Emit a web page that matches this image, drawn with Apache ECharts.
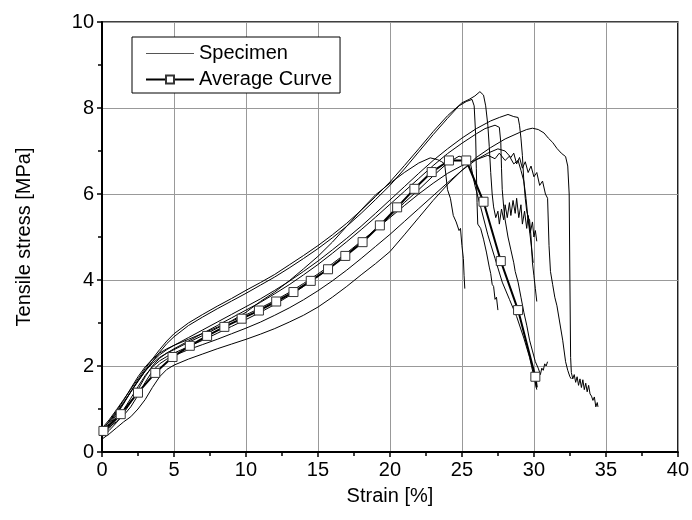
<!DOCTYPE html>
<html><head><meta charset="utf-8">
<script src="https://cdn.jsdelivr.net/npm/echarts@6/dist/echarts.min.js"></script>
<style>html,body{margin:0;padding:0;background:#fff}#c{width:692px;height:520px}</style>
</head><body><div id="c"></div>
<script>
// x ticks / y ticks
const xTicks = [0, 5, 10, 15, 20, 25, 30, 35, 40];
const yTicks = [0, 2, 4, 6, 8, 10];

// Average curve (markers)
const averageStrain = [0.1,1.3,2.5,3.7,4.9,6.1,7.3,8.5,9.7,10.9,12.1,13.3,14.5,15.7,16.9,18.1,19.3,20.5,21.7,22.9,24.1,25.3,26.5,27.7,28.9,30.1,30.2];
const averageStress = [0.49,0.88,1.38,1.84,2.21,2.47,2.70,2.91,3.10,3.29,3.50,3.72,3.98,4.25,4.56,4.88,5.27,5.69,6.12,6.51,6.78,6.78,5.82,4.44,3.30,1.75,1.5];

// Specimen curves [strain %, stress MPa]
const specimenA = [[0,0.55],[0.5,0.75],[1,0.98],[1.5,1.22],[2,1.46],[2.5,1.7],[3,1.94],[3.5,2.16],[4,2.38],[4.5,2.58],[5,2.75],[6,3.0],[7,3.2],[8,3.39],[9,3.57],[10,3.76],[11,3.94],[12,4.13],[13,4.35],[14,4.57],[15,4.8],[16,5.05],[17,5.32],[18,5.62],[19,5.94],[20,6.28],[21,6.66],[22,7.05],[23,7.45],[24,7.82],[25,8.12],[25.5,8.2],[25.9,8.28],[26.25,8.38],[26.5,8.3],[26.65,8.05],[26.8,7.6],[26.9,7.1],[27.0,6.5],[27.1,6.0],[27.2,5.7],[27.35,5.45],[27.5,5.6],[27.6,5.3],[27.75,5.65],[27.9,5.4],[28.0,5.75],[28.15,5.45],[28.3,5.8],[28.4,5.5],[28.55,5.85],[28.7,5.55],[28.8,5.9],[28.95,5.45],[29.1,5.75],[29.2,5.3],[29.35,5.6],[29.5,5.2],[29.6,5.5],[29.75,5.1],[29.9,5.35],[30.0,5.0],[30.1,5.15],[30.2,4.9]];
const specimenB = [[0,0.5],[0.5,0.7],[1,0.92],[1.5,1.15],[2,1.4],[2.5,1.64],[3,1.88],[3.5,2.1],[4,2.32],[4.5,2.52],[5,2.68],[6,2.94],[7,3.14],[8,3.33],[9,3.51],[10,3.69],[11,3.88],[12,4.07],[13,4.28],[14,4.5],[15,4.73],[16,4.98],[17,5.25],[18,5.55],[19,5.87],[20,6.2],[21,6.58],[22,6.98],[23,7.38],[24,7.76],[24.8,8.05],[25.3,8.15],[25.7,8.2],[25.85,8.05],[25.95,7.4],[26.0,6.6],[26.05,5.8],[26.1,5.3],[26.3,5.2],[26.5,4.95],[26.7,4.65],[26.9,4.3],[27.0,4.15],[27.1,3.9],[27.2,3.85],[27.3,3.55],[27.4,3.6],[27.5,3.3]];
const specimenC = [[0,0.4],[0.5,0.62],[1,0.86],[1.5,1.12],[2,1.4],[2.5,1.66],[3,1.9],[3.5,2.1],[4,2.26],[4.5,2.38],[5,2.48],[6,2.66],[7,2.84],[8,3.02],[9,3.2],[10,3.38],[11,3.56],[12,3.76],[13,3.97],[14,4.2],[15,4.44],[16,4.7],[17,4.97],[18,5.25],[19,5.55],[20,5.86],[21,6.17],[22,6.48],[23,6.78],[24,7.05],[25,7.3],[26,7.52],[27,7.7],[27.6,7.78],[28.2,7.85],[28.6,7.8],[28.9,7.78],[29.0,7.6],[29.1,7.3],[29.2,6.9],[29.3,6.3],[29.4,5.9],[29.5,5.6],[29.6,5.45],[29.7,5.4],[29.8,5.0],[29.9,4.4],[30.0,4.1],[30.1,3.8],[30.2,3.5]];
const specimenD = [[0,0.35],[0.5,0.5],[1,0.68],[1.5,0.9],[2,1.15],[2.5,1.45],[3,1.75],[3.5,2.0],[4,2.18],[4.5,2.3],[5,2.4],[6,2.58],[7,2.76],[8,2.94],[9,3.12],[10,3.3],[11,3.48],[12,3.68],[13,3.89],[14,4.12],[15,4.36],[16,4.62],[17,4.89],[18,5.17],[19,5.46],[20,5.76],[21,6.06],[22,6.36],[23,6.66],[24,6.94],[25,7.18],[26,7.4],[26.6,7.52],[27.3,7.6],[27.6,7.55],[27.7,7.2],[27.75,6.6],[27.8,6.1],[27.9,5.7],[28.0,5.4],[28.2,5.0],[28.4,4.7],[28.6,4.4],[28.7,4.2],[28.9,3.95],[29.1,3.6],[29.3,3.25],[29.5,2.95],[29.7,2.6],[29.9,2.35],[30.1,2.1],[30.3,1.95],[30.45,1.8],[30.55,1.95],[30.65,1.9],[30.75,2.05],[30.85,2.0],[30.95,2.1]];
const specimenE = [[0,0.3],[0.5,0.42],[1,0.56],[1.5,0.7],[2,0.82],[2.5,1.0],[3,1.22],[3.5,1.5],[4,1.75],[4.5,1.92],[5,2.02],[6,2.16],[7,2.28],[8,2.4],[9,2.51],[10,2.62],[11,2.74],[12,2.87],[13,3.02],[14,3.18],[15,3.37],[16,3.6],[17,3.85],[18,4.12],[19,4.38],[20,4.66],[21,5.05],[22,5.45],[23,5.85],[24,6.22],[25,6.55],[26,6.85],[27,7.08],[28,7.28],[29,7.43],[29.5,7.5],[29.9,7.53],[30.3,7.5],[30.7,7.42],[31.0,7.3],[31.3,7.2],[31.6,7.06],[31.9,6.95],[32.2,6.87],[32.35,6.65],[32.45,6.0],[32.5,4.0],[32.55,2.2],[32.6,1.85],[32.7,1.7],[32.8,1.8],[32.9,1.62],[33.0,1.75],[33.1,1.55],[33.2,1.7],[33.3,1.5],[33.4,1.68],[33.5,1.45],[33.6,1.6],[33.7,1.4],[33.8,1.55],[33.9,1.35],[34.0,1.3],[34.1,1.2],[34.2,1.28],[34.3,1.05],[34.4,1.15],[34.45,1.05]];
const specimenF = [[0,0.45],[0.5,0.58],[1,0.7],[1.5,0.85],[2,1.05],[2.5,1.32],[3,1.62],[3.5,1.88],[4,2.05],[4.5,2.16],[5,2.24],[6,2.38],[7,2.5],[8,2.62],[9,2.75],[10,2.88],[11,3.02],[12,3.18],[13,3.35],[14,3.54],[15,3.75],[16,3.98],[17,4.23],[18,4.5],[19,4.78],[20,5.06],[21,5.36],[22,5.66],[23,5.96],[24,6.26],[25,6.55],[26,6.8],[26.8,6.95],[27.5,7.05],[28.0,7.0],[28.4,6.85],[28.6,6.95],[28.8,6.7],[29.0,6.85],[29.2,6.6],[29.4,6.75],[29.6,6.5],[29.8,6.65],[30.0,6.4],[30.2,6.5],[30.4,6.2],[30.6,6.3],[30.8,6.0],[30.95,5.9],[31.05,4.8],[31.15,4.2],[31.3,3.9],[31.45,3.6],[31.6,3.4],[31.8,3.0],[32.0,2.6],[32.2,2.1],[32.35,1.9],[32.5,1.75],[32.6,1.7]];
const specimenG = [[0,0.45],[0.5,0.66],[1,0.9],[1.5,1.14],[2,1.4],[2.5,1.65],[3,1.88],[3.5,2.06],[4,2.2],[4.5,2.3],[5,2.38],[6,2.55],[7,2.71],[8,2.88],[9,3.05],[10,3.25],[11,3.5],[12,3.72],[13,3.98],[14,4.26],[15,4.55],[16,4.88],[17,5.25],[18,5.63],[19,5.98],[20,6.25],[21,6.5],[22,6.72],[22.8,6.84],[23.3,6.8],[23.6,6.75],[23.8,6.7],[23.9,6.4],[24.0,6.1],[24.2,5.9],[24.4,5.5],[24.6,5.35],[24.8,5.15],[24.9,5.2],[25.0,4.8],[25.1,4.5],[25.15,4.1],[25.2,3.8]];
const specimenH = [[0,0.4],[0.5,0.55],[1,0.75],[1.5,0.98],[2,1.25],[2.5,1.52],[3,1.78],[3.5,1.98],[4,2.12],[4.5,2.22],[5,2.3],[6,2.45],[7,2.6],[8,2.76],[9,2.92],[10,3.08],[11,3.25],[12,3.43],[13,3.63],[14,3.85],[15,4.08],[16,4.33],[17,4.6],[18,4.88],[19,5.18],[20,5.48],[21,5.8],[22,6.1],[23,6.42],[24,6.72],[24.8,6.88],[25.3,6.82],[25.6,6.7],[25.9,6.2],[26.3,5.7],[26.8,5.05],[27.3,4.5],[27.8,3.95],[28.3,3.55],[28.8,3.15],[29.3,2.65],[29.7,2.2],[30.0,1.75],[30.2,1.45]];
const specimenI = [[0,0.5],[0.5,0.72],[1,0.95],[1.5,1.2],[2,1.48],[2.5,1.75],[3,1.98],[3.5,2.16],[4,2.3],[4.5,2.4],[5,2.48],[6,2.62],[7,2.76],[8,2.9],[9,3.04],[10,3.19],[11,3.35],[12,3.52],[13,3.71],[14,3.92],[15,4.14],[16,4.38],[17,4.63],[18,4.9],[19,5.17],[20,5.45],[21,5.73],[22,6.0],[23,6.25],[24,6.48],[25,6.66],[26,6.8],[26.8,6.9],[27.3,6.82],[27.6,6.95],[28.0,6.78],[28.3,6.88],[28.6,6.7],[28.9,6.78],[29.1,6.55],[29.3,6.3],[29.45,5.9],[29.6,5.4],[29.75,5.0],[29.85,4.7],[29.95,4.4]];

const specimens = [specimenE, specimenF, specimenH, specimenI, specimenD, specimenC, specimenG, specimenB, specimenA];

const FONT = "'Liberation Sans', Arial, sans-serif";
const chart = echarts.init(document.getElementById('c'), null, {renderer: 'canvas'});

const series = specimens.map(d => ({
  name: 'Specimen', type: 'line', data: d, symbol: 'none', smooth: false,
  lineStyle: {color: '#000', width: 1}, itemStyle: {color: '#000'}, z: 2, animation: false
}));
series.push({
  name: 'Average Curve', type: 'line', z: 5, animation: false,
  data: averageStrain.map((x, i) => i === averageStrain.length - 1
    ? {value: [x, averageStress[i]], symbol: 'none'}
    : [x, averageStress[i]]),
  symbol: 'rect', symbolSize: 9, showAllSymbol: true,
  lineStyle: {color: '#000', width: 2},
  itemStyle: {color: '#fff', borderColor: '#333', borderWidth: 1}
});

chart.setOption({
  backgroundColor: '#fff',
  animation: false,
  grid: {left: 102, right: 14, top: 22, bottom: 68, show: true, borderColor: '#000', borderWidth: 1.5, backgroundColor: 'transparent'},
  legend: {
    data: [
      {name: 'Specimen', icon: 'path://M0,0 L200,0 L200,4 L0,4 Z', itemStyle: {color: '#555', borderWidth: 0}},
      {name: 'Average Curve'}
    ],
    orient: 'vertical', left: 132, top: 37, padding: [6, 8, 3, 13],
    itemWidth: 48, itemHeight: 10, itemGap: 5,
    borderColor: '#000', borderWidth: 1, backgroundColor: '#fff',
    textStyle: {fontFamily: FONT, fontSize: 20, color: '#000', lineHeight: 21},
    selectedMode: false
  },
  xAxis: {
    type: 'value', min: xTicks[0], max: xTicks[xTicks.length - 1], interval: 5,
    name: 'Strain [%]', nameLocation: 'middle', nameGap: 34,
    nameTextStyle: {fontFamily: FONT, fontSize: 20, color: '#000'},
    axisLine: {show: true, onZero: false, lineStyle: {color: '#000', width: 2}},
    axisTick: {show: true, inside: false, length: 5, lineStyle: {color: '#000', width: 1.5}},
    minorTick: {show: true, splitNumber: 2, length: 4, lineStyle: {color: '#000', width: 1.5}},
    axisLabel: {fontFamily: FONT, fontSize: 20, color: '#000', margin: 8},
    splitLine: {show: true, lineStyle: {color: '#999', width: 1}}
  },
  yAxis: {
    type: 'value', min: yTicks[0], max: yTicks[yTicks.length - 1], interval: 2,
    name: 'Tensile stress [MPa]', nameLocation: 'middle', nameGap: 68, nameRotate: 90,
    nameTextStyle: {fontFamily: FONT, fontSize: 20, color: '#000'},
    axisLine: {show: true, onZero: false, lineStyle: {color: '#000', width: 2}},
    axisTick: {show: true, inside: false, length: 5, lineStyle: {color: '#000', width: 1.5}},
    minorTick: {show: true, splitNumber: 2, length: 4, lineStyle: {color: '#000', width: 1.5}},
    axisLabel: {fontFamily: FONT, fontSize: 20, color: '#000', margin: 8},
    splitLine: {show: true, lineStyle: {color: '#999', width: 1}}
  },
  series: series
});
</script></body></html>
